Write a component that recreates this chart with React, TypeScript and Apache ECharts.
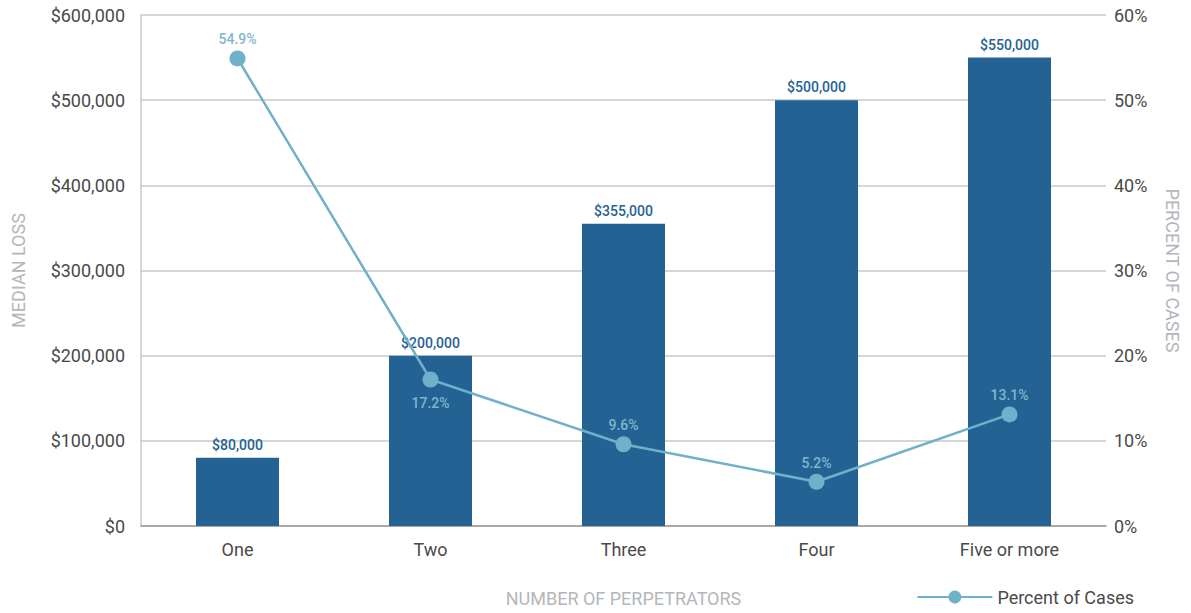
import React, { useEffect, useRef } from "react";
import * as echarts from "echarts";

const categories = ["One", "Two", "Three", "Four", "Five or more"];
const medianLoss = [80000, 200000, 355000, 500000, 550000];
const percentCases = [54.9, 17.2, 9.6, 5.2, 13.1];
const percentLabelPos = ["top", "bottom", "top", "top", "top"];

const BAR = "#256294";
const LINE = "#70b0c9";
const CONDENSED = "Roboto, 'Noto Sans', sans-serif";
const AXISFONT = "Roboto, 'Noto Sans', sans-serif";

export default function App() {
  const ref = useRef<HTMLDivElement>(null);
  useEffect(() => {
    const chart = echarts.init(ref.current!, null, { renderer: "svg" });
    chart.setOption({
      animation: false,
      grid: { left: 141, right: 85, top: 15, bottom: 87, outerBoundsMode: "none", containLabel: false },
      legend: {
        show: true,
        right: 52,
        bottom: 2,
        itemWidth: 75,
        itemHeight: 16,
        itemGap: 8,
        textStyle: { fontFamily: AXISFONT, fontSize: 18, color: "#4a4a4a" },
        data: [{ name: "Percent of Cases" }],
      },
      xAxis: {
        type: "category",
        data: categories,
        name: "NUMBER OF PERPETRATORS",
        nameLocation: "middle",
        nameGap: 63,
        nameTextStyle: { fontFamily: AXISFONT, fontSize: 18, color: "#b3b6ba" },
        axisLine: { lineStyle: { color: "#9a9a9a", width: 1.5 } },
        axisTick: { show: false },
        axisLabel: { fontFamily: AXISFONT, fontSize: 18, color: "#4a4a4a", margin: 14 },
      },
      yAxis: [
        {
          type: "value",
          min: 0,
          max: 600000,
          interval: 100000,
          name: "MEDIAN LOSS",
          nameLocation: "middle",
          nameGap: 114,
          nameRotate: 90,
          nameTextStyle: { fontFamily: AXISFONT, fontSize: 18, color: "#b3b6ba" },
          axisLine: { show: true, lineStyle: { color: "#c8c8c8", width: 1.5 } },
          axisTick: { show: false },
          splitLine: { lineStyle: { color: "#c8c8c8", width: 1.5 } },
          axisLabel: {
            fontFamily: AXISFONT,
            fontSize: 18,
            color: "#4a4a4a",
            margin: 16,
            formatter: (v: number) => "$" + v.toLocaleString("en-US"),
          },
        },
        {
          type: "value",
          min: 0,
          max: 60,
          interval: 10,
          name: "PERCENT OF CASES",
          nameLocation: "middle",
          nameGap: 57,
          nameRotate: -90,
          nameTextStyle: { fontFamily: AXISFONT, fontSize: 18, color: "#b3b6ba" },
          axisLine: { show: false },
          axisTick: { show: false },
          splitLine: { show: false },
          axisLabel: {
            fontFamily: AXISFONT,
            fontSize: 18,
            color: "#4a4a4a",
            margin: 8,
            formatter: "{value}%",
          },
        },
      ],
      series: [
        {
          name: "Median Loss",
          type: "bar",
          data: medianLoss,
          barWidth: 83,
          itemStyle: { color: BAR },
          label: {
            show: true,
            position: "top",
            distance: 6,
            fontFamily: CONDENSED,
            fontWeight: 500,
            fontSize: 14,
            color: BAR,
            formatter: (p: any) => "$" + p.value.toLocaleString("en-US"),
          },
        },
        {
          name: "Percent of Cases",
          type: "line",
          yAxisIndex: 1,
          data: percentCases.map((v, i) => ({
            value: v,
            label: {
              position: percentLabelPos[i],
              distance: percentLabelPos[i] === "top" ? 4 : 8,
            },
          })),
          symbol: "circle",
          symbolSize: 16,
          lineStyle: { color: LINE, width: 2.5 },
          itemStyle: { color: LINE },
          label: {
            show: true,
            fontFamily: CONDENSED,
            fontWeight: 500,
            fontSize: 14,
            color: "#7fb6cd",
            formatter: (p: any) => p.value.toFixed(1) + "%",
          },
          z: 5,
        },
      ],
    });
    return () => chart.dispose();
  }, []);
  return (
    <div
      ref={ref}
      style={{ position: "absolute", left: 0, top: 0, width: 1191, height: 613 }}
    />
  );
}
